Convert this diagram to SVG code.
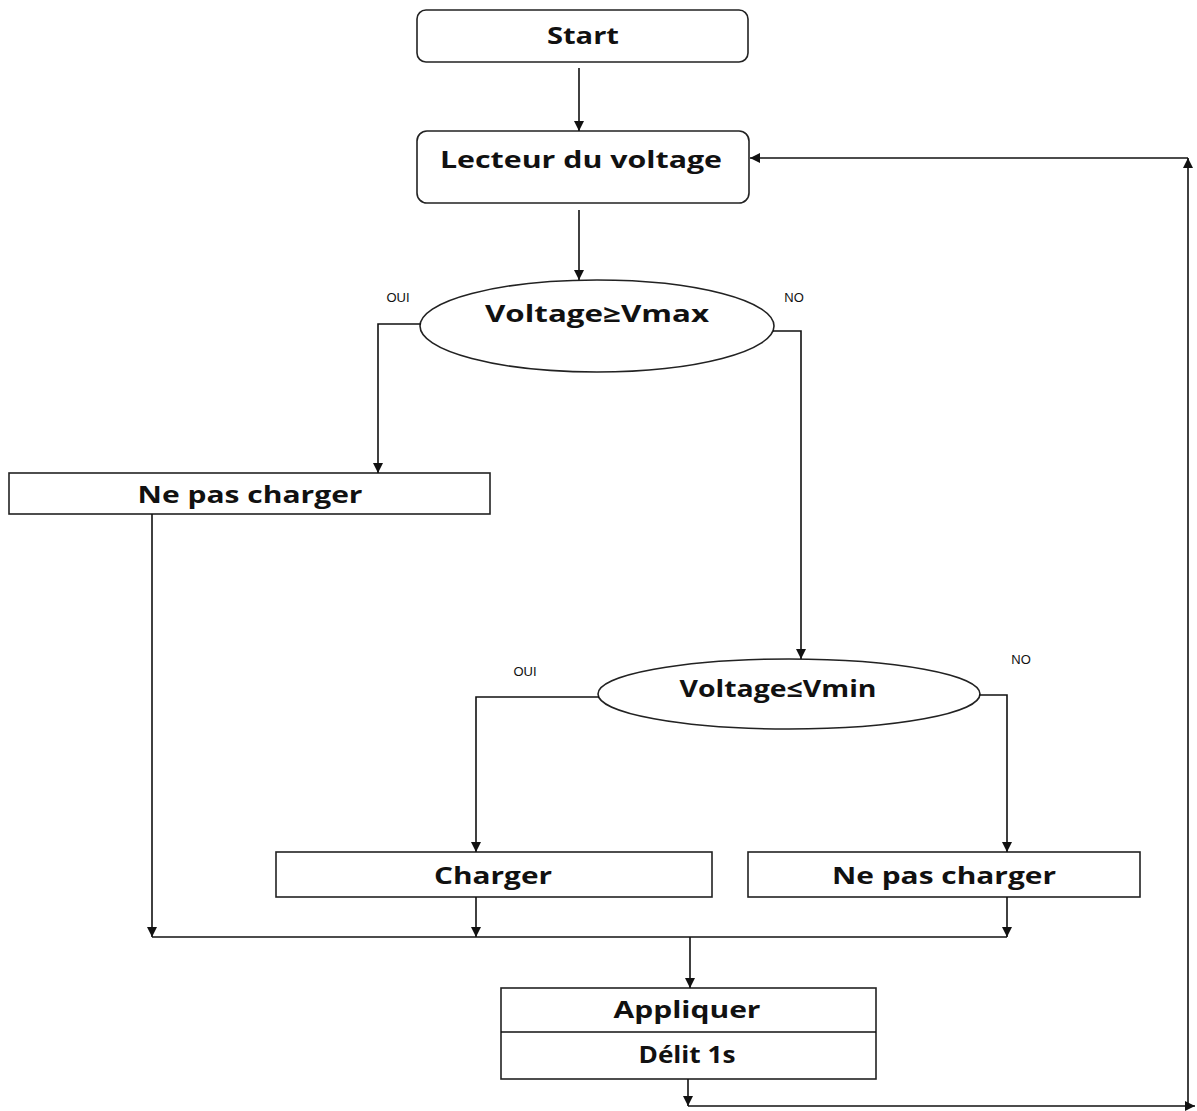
<svg xmlns="http://www.w3.org/2000/svg" width="1197" height="1111" viewBox="0 0 1197 1111">
<style>
.box{fill:#fff;stroke:#222;stroke-width:1.6}
.t{font-family:"Open Sans","Liberation Sans",sans-serif;font-weight:bold;font-size:23px;fill:#111;text-anchor:middle}
.s{font-family:"Liberation Sans",Arial,sans-serif;font-size:13px;fill:#111;text-anchor:middle}
.c{fill:none;stroke:#111;stroke-width:1.6}
</style>
<defs>
<marker id="ah" viewBox="0 0 10 10" refX="10" refY="5" markerWidth="10" markerHeight="10" markerUnits="userSpaceOnUse" orient="auto">
<path d="M0,0 L10,5 L0,10 z" fill="#111"/>
</marker>
</defs>
<rect width="1197" height="1111" fill="#fff"/>
<g id="start">
<rect class="box" x="417" y="10" width="331" height="52" rx="9"/>
<text class="t" x="583" y="44" textLength="72" lengthAdjust="spacingAndGlyphs">Start</text>
</g>
<g id="lecteur">
<rect class="box" x="417" y="131" width="332" height="72" rx="10"/>
<text class="t" x="581" y="168" textLength="282" lengthAdjust="spacingAndGlyphs">Lecteur du voltage</text>
</g>
<g id="dec1">
<ellipse class="box" cx="597" cy="326" rx="177" ry="46"/>
<text class="t" x="597" y="322" textLength="224" lengthAdjust="spacingAndGlyphs">Voltage≥Vmax</text>
</g>
<g id="nepas1">
<rect class="box" x="9" y="473" width="481" height="41"/>
<text class="t" x="250" y="503" textLength="225" lengthAdjust="spacingAndGlyphs">Ne pas charger</text>
</g>
<g id="dec2">
<ellipse class="box" cx="789" cy="694" rx="191" ry="35"/>
<text class="t" x="778" y="697" textLength="197" lengthAdjust="spacingAndGlyphs">Voltage≤Vmin</text>
</g>
<g id="charger">
<rect class="box" x="276" y="852" width="436" height="45"/>
<text class="t" x="493" y="884" textLength="118" lengthAdjust="spacingAndGlyphs">Charger</text>
</g>
<g id="nepas2">
<rect class="box" x="748" y="852" width="392" height="45"/>
<text class="t" x="944" y="884" textLength="224" lengthAdjust="spacingAndGlyphs">Ne pas charger</text>
</g>
<g id="appliquer">
<rect class="box" x="501" y="988" width="375" height="91"/>
<line class="c" x1="501" y1="1032" x2="876" y2="1032"/>
<text class="t" x="687" y="1018" textLength="147" lengthAdjust="spacingAndGlyphs">Appliquer</text>
<text class="t" x="687" y="1063" textLength="97" lengthAdjust="spacingAndGlyphs">Délit 1s</text>
</g>
<g id="labels">
<text class="s" x="398" y="302">OUI</text>
<text class="s" x="794" y="302">NO</text>
<text class="s" x="525" y="676">OUI</text>
<text class="s" x="1021" y="664">NO</text>
</g>
<g id="connectors">
<line class="c" x1="579" y1="68" x2="579" y2="131" marker-end="url(#ah)"/>
<line class="c" x1="579" y1="210" x2="579" y2="280" marker-end="url(#ah)"/>
<polyline class="c" points="421,324 378,324 378,473" marker-end="url(#ah)"/>
<polyline class="c" points="773,331 801,331 801,659" marker-end="url(#ah)"/>
<line class="c" x1="152" y1="514" x2="152" y2="937" marker-end="url(#ah)"/>
<polyline class="c" points="599,697 476,697 476,852" marker-end="url(#ah)"/>
<polyline class="c" points="979,695 1007,695 1007,852" marker-end="url(#ah)"/>
<line class="c" x1="476" y1="897" x2="476" y2="937" marker-end="url(#ah)"/>
<line class="c" x1="1007" y1="897" x2="1007" y2="937" marker-end="url(#ah)"/>
<line class="c" x1="152" y1="937" x2="1007" y2="937"/>
<line class="c" x1="690" y1="937" x2="690" y2="988" marker-end="url(#ah)"/>
<line class="c" x1="688" y1="1079" x2="688" y2="1106" marker-end="url(#ah)"/>
<line class="c" x1="688" y1="1106" x2="1195" y2="1106" marker-end="url(#ah)"/>
<line class="c" x1="1188" y1="1106" x2="1188" y2="158" marker-end="url(#ah)"/>
<line class="c" x1="1188" y1="158" x2="750" y2="158" marker-end="url(#ah)"/>
</g>
</svg>
